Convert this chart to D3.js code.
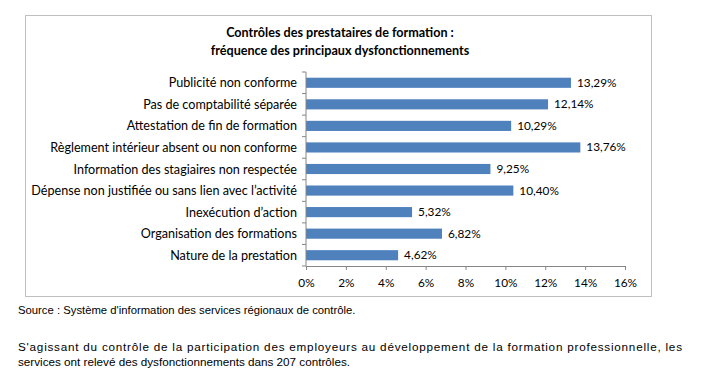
<!DOCTYPE html>
<html>
<head>
<meta charset="utf-8">
<script src="https://cdn.jsdelivr.net/npm/d3@7"></script>
<style>
  body { margin: 0; background: #fff; }
  svg { display: block; }
</style>
</head>
<body>
<svg id="chart" width="703" height="388"></svg>
<script>
// data
const categories = [
  "Publicité non conforme",
  "Pas de comptabilité séparée",
  "Attestation de fin de formation",
  "Règlement intérieur absent ou non conforme",
  "Information des stagiaires non respectée",
  "Dépense non justifiée ou sans lien avec l’activité",
  "Inexécution d’action",
  "Organisation des formations",
  "Nature de la prestation"
];
const values = [13.29, 12.14, 10.29, 13.76, 9.25, 10.40, 5.32, 6.82, 4.62];
const xTicks = [0, 2, 4, 6, 8, 10, 12, 14, 16];
const titleLines = ["Contrôles des prestataires de formation :", "fréquence des principaux dysfonctionnements"];

let items = categories.map((c, i) => ({ name: c, value: values[i] }));

// globals
let svg = d3.select('#chart');
let font = "Lato, sans-serif";

// frame
svg.append('rect')
    .attr('x', 25.5).attr('y', 15.5)
    .attr('width', 626).attr('height', 281)
    .attr('fill', 'none')
    .attr('stroke', '#bfbfbf');

// title
svg.selectAll('text.title')
    .data(titleLines)
    .enter()
    .append('text')
    .attr('class', 'title')
    .attr('x', 340)
    .attr('y', (d, i) => 37 + 18 * i)
    .attr('text-anchor', 'middle')
    .style('font-family', font)
    .style('font-size', '12.6px')
    .style('font-weight', 'bold')
    .text(d => d);

let x = d3.scaleLinear().domain([0, 16]).range([306, 625]);
let y = d3.scaleBand().domain(categories).range([72, 266]).paddingInner(0.53).paddingOuter(0.265);

// bars
svg.selectAll('rect.bar')
    .data(items)
    .enter()
    .append('rect')
    .attr('class', 'bar')
    .attr('x', x(0))
    .attr('y', d => y(d.name))
    .attr('width', d => x(d.value) - x(0))
    .attr('height', y.bandwidth())
    .attr('fill', '#4f81bd');

// value labels
svg.selectAll('text.val')
    .data(items)
    .enter()
    .append('text')
    .attr('class', 'val')
    .attr('x', d => x(d.value) + 6)
    .attr('y', d => y(d.name) + y.bandwidth() / 2 + 4)
    .style('font-family', font)
    .style('font-size', '11.8px')
    .text(d => d.value.toFixed(2).replace('.', ',') + '%');

// x axis
let xAxis = svg.append('g')
    .attr('transform', 'translate(0,266)')
    .call(d3.axisBottom(x).tickValues(xTicks).tickSize(4).tickPadding(9).tickFormat(d => d + '%'));

// y axis (ticks at band boundaries)
let yAxis = svg.append('g')
    .attr('transform', 'translate(306,0)');
yAxis.append('line')
    .attr('y1', 72).attr('y2', 266)
    .attr('stroke', '#868686');
let step = y.step();
yAxis.selectAll('line.tk')
    .data(d3.range(categories.length + 1))
    .enter()
    .append('line')
    .attr('class', 'tk')
    .attr('x1', -4).attr('x2', 0)
    .attr('y1', i => 72 + i * step)
    .attr('y2', i => 72 + i * step)
    .attr('stroke', '#868686');

svg.selectAll('text.cat')
    .data(categories)
    .enter()
    .append('text')
    .attr('class', 'cat')
    .attr('x', 297)
    .attr('y', d => y(d) + y.bandwidth() / 2 + 4.5)
    .attr('text-anchor', 'end')
    .style('font-family', font)
    .style('font-size', '12.6px')
    .text(d => d);

xAxis.select('.domain').attr('stroke', '#868686');
xAxis.selectAll('.tick line').attr('stroke', '#868686');
xAxis.selectAll('.tick text')
    .style('font-family', font)
    .style('font-size', '11.8px')
    .attr('fill', '#000');

// source & paragraph
let narrow = "Liberation Sans, Arial, sans-serif";
svg.append('text')
    .attr('x', 18).attr('y', 314)
    .style('font-family', narrow)
    .style('font-size', '11.3px')
    .text("Source : Système d'information des services régionaux de contrôle.");

svg.append('text')
    .attr('x', 18).attr('y', 351)
    .attr('textLength', 664)
    .attr('lengthAdjust', 'spacing')
    .style('font-family', narrow)
    .style('font-size', '11.7px')
    .text("S'agissant du contrôle de la participation des employeurs au développement de la formation professionnelle, les");
svg.append('text')
    .attr('x', 18).attr('y', 366)
    .style('font-family', narrow)
    .style('font-size', '11.7px')
    .text("services ont relevé des dysfonctionnements dans 207 contrôles.");
</script>
</body>
</html>
